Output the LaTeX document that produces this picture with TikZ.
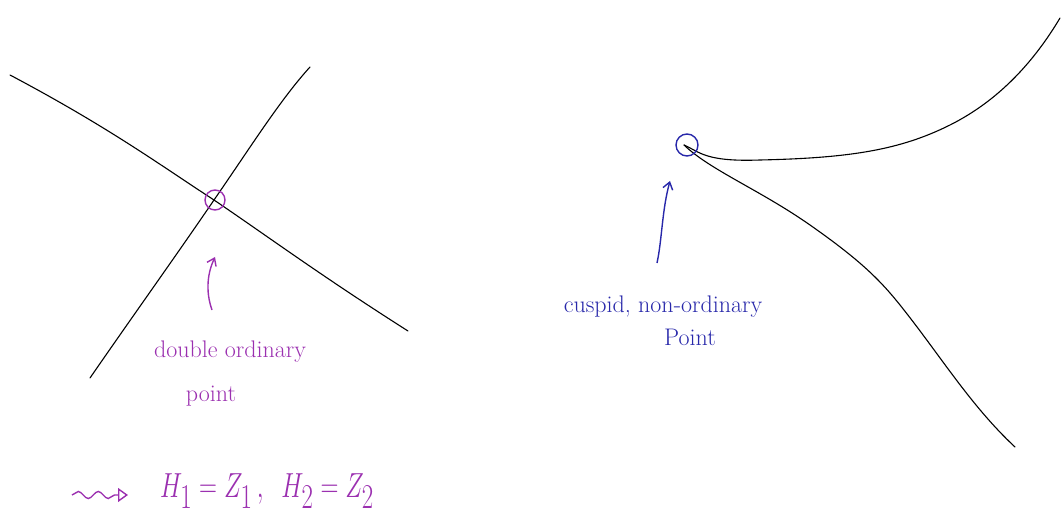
\documentclass[tikz,border=0pt]{standalone}
\usepackage{graphicx}
\usetikzlibrary{arrows.meta,decorations.pathmorphing}
\definecolor{pur}{RGB}{155,48,176}
\definecolor{blu}{RGB}{40,40,170}
\tikzset{
  curve/.style={black, line width=1.1pt, line cap=round},
  ring/.style={line width=1.4pt},
  handtext/.style={font=\fontsize{24}{28}\selectfont},
  pointer/.style={line width=1.4pt, -{Straight Barb[length=7pt,width=10pt]}},
}
\begin{document}
\begin{tikzpicture}[x=1pt,y=-1pt]
\useasboundingbox (0,0) rectangle (1062,518);
% left: double point
\coordinate (a1) at (10,75);
\coordinate (a2) at (408,331);
\coordinate (b1) at (90,378);
\coordinate (b2) at (310,67);
\draw[curve] (a1) .. controls (110,128) and (160,165) .. (214,200)
  .. controls (270,238) and (320,275) .. (a2);
\draw[curve] (b1) .. controls (130,320) and (180,250) .. (214,200)
  .. controls (250,148) and (280,100) .. (b2);
\node[draw=pur, ring, circle, minimum size=20pt, inner sep=0pt] (dp) at (215,200) {};
\coordinate (dpa) at (212,310);
\draw[pur, pointer] (dpa) .. controls (205,290) and (208,272) .. (dp.south |- 0,257);
\node[pur, handtext] (t1) at (230,352) {double ordinary};
\node[pur, handtext] (t2) at (211,396) {point};
% bottom formula
\coordinate (s1) at (72,495);
\coordinate (s2) at (128,495);
\draw[pur, line width=1.4pt, decorate, decoration={snake, amplitude=3.5pt, segment length=20pt, post length=8pt}, -{Triangle[open,length=10pt,width=14pt]}] (s1) -- (s2);
\node[pur, anchor=west, inner sep=0pt] (f) at (160,491) {\scalebox{1}[1.4]{\fontsize{36}{42}\selectfont$H_1 = Z_1\,,\;\; H_2 = Z_2$}};
% right: cusp
\coordinate (c0) at (684,145);
\coordinate (u1) at (1060,18);
\coordinate (l1) at (1015,447);
\draw[curve] (c0) .. controls (700,152) and (705,162) .. (760,160)
  .. controls (850,158) and (900,150) .. (950,125)
  .. controls (1000,100) and (1035,60) .. (u1);
\draw[curve] (c0) .. controls (710,170) and (760,190) .. (810,225)
  .. controls (860,260) and (880,280) .. (900,305)
  .. controls (940,355) and (970,405) .. (l1);
\node[draw=blu, ring, circle, minimum size=22pt, inner sep=0pt] (cp) at (687,145) {};
\coordinate (cpa) at (657,263);
\draw[blu, pointer] (cpa) .. controls (662,240) and (662,210) .. (670,181);
\node[blu, handtext] (t3) at (663,307) {cuspid, non-ordinary};
\node[blu, handtext] (t4) at (690,337) {Point};
\end{tikzpicture}
\end{document}
